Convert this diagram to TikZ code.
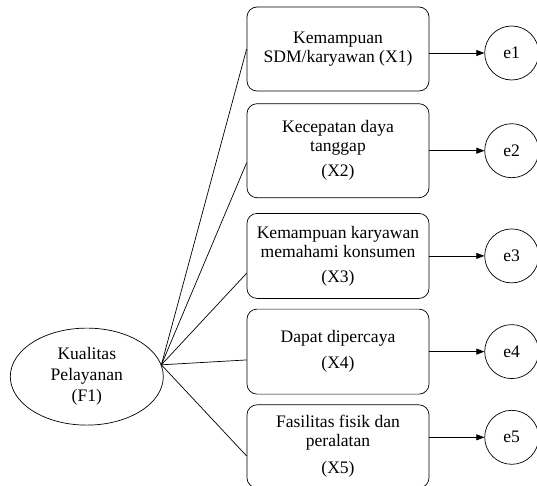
\documentclass[tikz,border=0pt]{standalone}
\usepackage{fontspec}
\setmainfont{Liberation Serif}
\usetikzlibrary{positioning, shapes.geometric, arrows.meta}
\begin{document}
\begin{tikzpicture}[node distance={3mm}, line width=0.6pt,
    factor/.style = {draw, ellipse, inner sep=0pt, minimum width=4.59cm, minimum height=2.91cm, align=center, font=\fontsize{15pt}{17.9pt}\selectfont},
    indicator/.style = {draw, rounded corners=3mm, minimum width=5.46cm, align=center, font=\fontsize{15pt}{16.2pt}\selectfont},
    err/.style = {draw, circle, minimum size=1.62cm, font=\fontsize{15pt}{16.2pt}\selectfont},
    link/.style = {-{Triangle[length=2.4mm, width=1.8mm]}}]
    \useasboundingbox (0,0) rectangle (16.11,-14.58);
    % indicators
    \node[indicator, minimum height=2.52cm] (X1) at (10.14,-1.47) {Kemampuan\\SDM/karyawan (X1)};
    \node[indicator, minimum height=2.82cm] (X2) [below=3.6mm of X1] {Kecepatan daya\\tanggap\\[1.8mm](X2)};
    \node[indicator, minimum height=2.55cm] (X3) [below=4.5mm of X2] {Kemampuan karyawan\\memahami konsumen\\[1.8mm](X3)};
    \node[indicator, minimum height=2.55cm] (X4) [below=3mm of X3] {Dapat dipercaya\\[2.2mm](X4)};
    \node[indicator, minimum height=2.49cm] (X5) [below=3mm of X4] {Fasilitas fisik dan\\peralatan\\[2.2mm](X5)};
    % factor
    \node[factor] (F1) [left=2.49cm of X4, yshift=-0.75cm] {Kualitas\\Pelayanan\\(F1)};
    % errors
    \node[err] (e1) [right=1.65cm of X1, yshift=-0.12cm] {e1};
    \node[err] (e2) [right=1.65cm of X2] {e2};
    \node[err] (e3) [right=1.65cm of X3] {e3};
    \node[err] (e4) [right=1.65cm of X4] {e4};
    \node[err] (e5) [right=1.65cm of X5, yshift=0.27cm] {e5};
    \draw (F1.9) -- (X1.west);
    \draw (F1.9) -- ([yshift=-0.36cm]X2.west);
    \draw (F1.9) -- ([yshift=-0.52cm]X3.west);
    \draw (F1.9) -- ([yshift=-0.25cm]X4.west);
    \draw (F1.9) -- ([yshift=-0.29cm]X5.west);
    \draw[link] (X1.east |- e1) -- (e1);
    \draw[link] (X2.east |- e2) -- (e2);
    \draw[link] (X3.east |- e3) -- (e3);
    \draw[link] (X4.east |- e4) -- (e4);
    \draw[link] (X5.east |- e5) -- (e5);
\end{tikzpicture}
\end{document}
